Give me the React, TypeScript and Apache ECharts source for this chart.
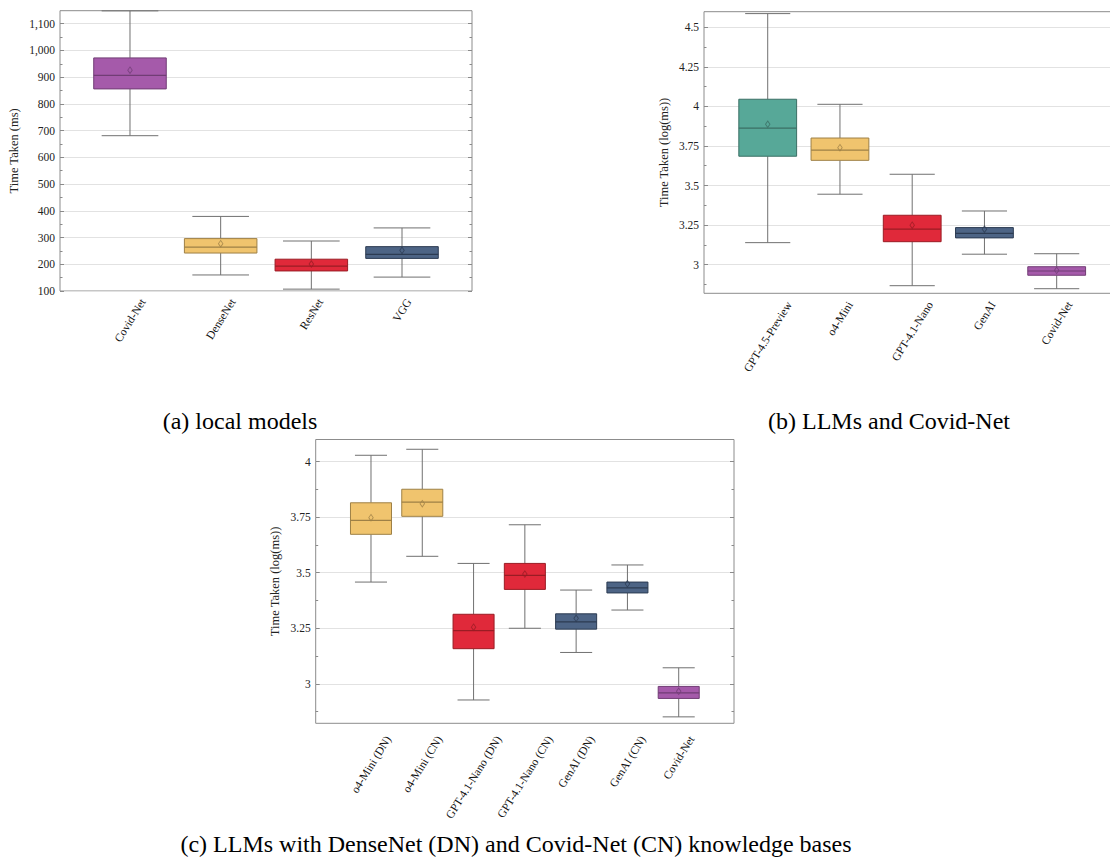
import React, { useEffect, useRef } from "react";
import * as echarts from "echarts";

// ---------------- data ----------------
// (a) local models
const catsA = ["Covid-Net", "DenseNet", "ResNet", "VGG"];
const minA = [681, 160, 107, 152];
const q1A = [856, 242, 175, 222];
const medA = [907, 264, 193, 237];
const q3A = [972, 296, 219, 266];
const maxA = [1148, 379, 287, 336];
const meanA = [926, 277, 201, 252];
const colA = ["purple", "yellow", "red", "blue"];
const majorA = [100, 200, 300, 400, 500, 600, 700, 800, 900, 1000, 1100];
const minorA = [150, 250, 350, 450, 550, 650, 750, 850, 950, 1050];

// (b) LLMs and Covid-Net
const catsB = ["GPT-4.5-Preview", "o4-Mini", "GPT-4.1-Nano", "GenAI", "Covid-Net"];
const minB = [3.139, 3.445, 2.867, 3.066, 2.848];
const q1B = [3.685, 3.659, 3.145, 3.169, 2.933];
const medB = [3.862, 3.723, 3.224, 3.198, 2.96];
const q3B = [4.045, 3.8, 3.312, 3.234, 2.987];
const maxB = [4.586, 4.013, 3.571, 3.339, 3.069];
const meanB = [3.887, 3.739, 3.249, 3.224, 2.964];
const colB = ["teal", "yellow", "red", "blue", "purple"];
const majorB = [3, 3.25, 3.5, 3.75, 4, 4.25, 4.5];
const minorB = [2.875, 3.125, 3.375, 3.625, 3.875, 4.125, 4.375];

// (c) LLMs with knowledge bases
const catsC = [
  "o4-Mini (DN)",
  "o4-Mini (CN)",
  "GPT-4.1-Nano (DN)",
  "GPT-4.1-Nano (CN)",
  "GenAI (DN)",
  "GenAI (CN)",
  "Covid-Net",
];
const minC = [3.458, 3.574, 2.927, 3.25, 3.141, 3.332, 2.851];
const q1C = [3.673, 3.754, 3.158, 3.425, 3.246, 3.409, 2.934];
const medC = [3.736, 3.818, 3.239, 3.488, 3.279, 3.432, 2.959];
const q3C = [3.815, 3.876, 3.313, 3.542, 3.315, 3.458, 2.988];
const maxC = [4.029, 4.056, 3.542, 3.716, 3.422, 3.535, 3.072];
const meanC = [3.748, 3.811, 3.255, 3.494, 3.295, 3.45, 2.966];
const colC = ["yellow", "yellow", "red", "red", "blue", "blue", "purple"];
const majorC = [3, 3.25, 3.5, 3.75, 4];
const minorC = [2.875, 3.125, 3.375, 3.625, 3.875];

const captionA = "(a) local models";
const captionB = "(b) LLMs and Covid-Net";
const captionC = "(c) LLMs with DenseNet (DN) and Covid-Net (CN) knowledge bases";

// ---------------- styling ----------------
const PALETTE: Record<string, { fill: string; stroke: string }> = {
  purple: { fill: "#A55AAA", stroke: "#713D75" },
  yellow: { fill: "#F0C46E", stroke: "#9E8046" },
  red: { fill: "#E0293A", stroke: "#9A1C24" },
  blue: { fill: "#4D6485", stroke: "#2C3B52" },
  teal: { fill: "#57A898", stroke: "#3B6F65" },
};
const FONT = '"Liberation Serif", "Times New Roman", serif';
const TICK = "#8a8a8a";
const GRIDC = "#e2e2e2";
const WHISK = "#707070";
const ROT = 58;
const RAD = (ROT * Math.PI) / 180;
const S = Math.sin(RAD);
const C = Math.cos(RAD);
const XFS = 11.5;
const XH = 8;

function measure(text: string, size: number): number {
  const ctx = document.createElement("canvas").getContext("2d");
  if (!ctx) return text.length * size * 0.45;
  ctx.font = `${size}px "Liberation Serif"`;
  return ctx.measureText(text).width;
}

type Panel = {
  grid: { left: number; top: number; width: number; height: number };
  xRange: [number, number];
  yRange: [number, number];
  cats: string[];
  mins: number[];
  q1s: number[];
  meds: number[];
  q3s: number[];
  maxs: number[];
  means: number[];
  cols: string[];
  major: number[];
  minor: number[];
  name: string;
  nameGap: number;
  fmt: (v: number) => string;
  labelGap: number;
};

function buildPanel(p: Panel, idx: number) {
  const yBase = idx * 4;
  const rich: Record<string, any> = {};
  p.cats.forEach((c, k) => {
    const L = measure(c, XFS);
    const delta = (L * S) / 2;
    rich["t" + k] = {
      fontFamily: FONT,
      fontSize: XFS,
      color: "#111",
      padding: [2 * C * delta, 2 * S * delta, 0, 0],
    };
  });
  const xAxis = {
    gridIndex: idx,
    type: "value",
    min: p.xRange[0],
    max: p.xRange[1],
    axisLine: { show: false, onZero: false },
    axisTick: { show: false },
    splitLine: { show: false },
    axisLabel: {
      customValues: p.cats.map((_, k) => k),
      rotate: ROT,
      align: "center",
      verticalAlign: "middle",
      margin: p.labelGap + (XH * C) / 2,
      fontFamily: FONT,
      fontSize: XFS,
      color: "#111",
      rich,
      formatter: (v: number) => {
        const k = Math.round(v);
        return `{t${k}|${p.cats[k]}}`;
      },
    },
  };
  const yCommon = {
    gridIndex: idx,
    type: "value",
    min: p.yRange[0],
    max: p.yRange[1],
    axisLine: { show: false, onZero: false },
    splitLine: { show: false },
    axisLabel: { show: false },
  };
  const yAxes = [
    {
      ...yCommon,
      position: "left",
      axisTick: { show: true, inside: true, length: 4, customValues: p.major, lineStyle: { color: TICK } },
      axisLabel: {
        show: true,
        customValues: p.major,
        formatter: p.fmt,
        margin: 5,
        fontFamily: FONT,
        fontSize: 11.5,
        color: "#222",
      },
      splitLine: { show: true, lineStyle: { color: GRIDC, width: 1 } },
      name: p.name,
      nameLocation: "middle",
      nameGap: p.nameGap,
      nameTextStyle: { fontFamily: FONT, fontSize: 12.5, color: "#222" },
    },
    {
      ...yCommon,
      position: "left",
      axisTick: { show: true, inside: true, length: 2.5, customValues: p.minor, lineStyle: { color: TICK } },
    },
    {
      ...yCommon,
      position: "right",
      axisTick: { show: true, inside: true, length: 4, customValues: p.major, lineStyle: { color: TICK } },
    },
    {
      ...yCommon,
      position: "right",
      axisTick: { show: true, inside: true, length: 2.5, customValues: p.minor, lineStyle: { color: TICK } },
    },
  ];
  const boxSeries = {
    type: "custom",
    xAxisIndex: idx,
    yAxisIndex: yBase,
    z: 3,
    silent: true,
    data: p.cats.map((_, k) => [k, p.mins[k], p.q1s[k], p.meds[k], p.q3s[k], p.maxs[k]]),
    encode: { x: 0, y: [1, 2, 3, 4, 5] },
    renderItem: (params: any, api: any) => {
      const k = api.value(0);
      const col = PALETTE[p.cols[params.dataIndex]];
      const pMin = api.coord([k, api.value(1)]);
      const pQ1 = api.coord([k, api.value(2)]);
      const pMed = api.coord([k, api.value(3)]);
      const pQ3 = api.coord([k, api.value(4)]);
      const pMax = api.coord([k, api.value(5)]);
      const bw = api.size([0.8, 0])[0];
      const cw = api.size([0.625, 0])[0];
      const x = pMin[0];
      const ws = { stroke: WHISK, lineWidth: 1 };
      return {
        type: "group",
        children: [
          { type: "line", shape: { x1: x, y1: pMax[1], x2: x, y2: pQ3[1] }, style: ws },
          { type: "line", shape: { x1: x, y1: pQ1[1], x2: x, y2: pMin[1] }, style: ws },
          { type: "line", shape: { x1: x - cw / 2, y1: pMax[1], x2: x + cw / 2, y2: pMax[1] }, style: ws },
          { type: "line", shape: { x1: x - cw / 2, y1: pMin[1], x2: x + cw / 2, y2: pMin[1] }, style: ws },
          {
            type: "rect",
            shape: { x: x - bw / 2, y: pQ3[1], width: bw, height: pQ1[1] - pQ3[1] },
            style: { fill: col.fill, stroke: col.stroke, lineWidth: 1 },
          },
          {
            type: "line",
            shape: { x1: x - bw / 2, y1: pMed[1], x2: x + bw / 2, y2: pMed[1] },
            style: { stroke: col.stroke, lineWidth: 1.2 },
          },
        ],
      };
    },
  };
  const meanSeries = {
    type: "scatter",
    xAxisIndex: idx,
    yAxisIndex: yBase,
    symbol: "diamond",
    symbolSize: [4.5, 6.5],
    z: 4,
    silent: true,
    data: p.means.map((m, k) => ({
      value: [k, m],
      itemStyle: { color: "rgba(0,0,0,0)", borderColor: PALETTE[p.cols[k]].stroke, borderWidth: 0.9 },
    })),
  };
  const grid = {
    ...p.grid,
    show: true,
    borderColor: "#8c8c8c",
    borderWidth: 1,
    backgroundColor: "rgba(0,0,0,0)",
    containLabel: false,
    outerBoundsMode: "none",
  };
  return { grid, xAxis, yAxes, series: [boxSeries, meanSeries] };
}

const fmtComma = (v: number) => Math.round(v).toLocaleString("en-US");
const fmtPlain = (v: number) => String(Math.round(v * 1000) / 1000);

export default function App() {
  const ref = useRef<HTMLDivElement>(null);
  useEffect(() => {
    if (!ref.current) return;
    const chart = echarts.init(ref.current, undefined, { renderer: "svg" });
    const panels: Panel[] = [
      {
        grid: { left: 60, top: 10.7, width: 412, height: 280.3 },
        xRange: [-0.772, 3.772],
        yRange: [100, 1148.6],
        cats: catsA, mins: minA, q1s: q1A, meds: medA, q3s: q3A, maxs: maxA, means: meanA, cols: colA,
        major: majorA, minor: minorA,
        name: "Time Taken (ms)", nameGap: 40, fmt: fmtComma, labelGap: 6.5,
      },
      {
        grid: { left: 704, top: 11.7, width: 416.4, height: 281.6 },
        xRange: [-0.882, 4.882],
        yRange: [2.819, 4.598],
        cats: catsB, mins: minB, q1s: q1B, meds: medB, q3s: q3B, maxs: maxB, means: meanB, cols: colB,
        major: majorB, minor: minorB,
        name: "Time Taken (log(ms))", nameGap: 34, fmt: fmtPlain, labelGap: 7,
      },
      {
        grid: { left: 315.7, top: 439.5, width: 418.3, height: 283.8 },
        xRange: [-1.078, 7.078],
        yRange: [2.822, 4.1],
        cats: catsC, mins: minC, q1s: q1C, meds: medC, q3s: q3C, maxs: maxC, means: meanC, cols: colC,
        major: majorC, minor: minorC,
        name: "Time Taken (log(ms))", nameGap: 34, fmt: fmtPlain, labelGap: 11.5,
      },
    ];
    const built = panels.map((p, i) => buildPanel(p, i));
    const captions = [
      { text: captionA, x: 240, y: 421 },
      { text: captionB, x: 889, y: 421 },
      { text: captionC, x: 516, y: 844 },
    ];
    chart.setOption({
      animation: false,
      grid: built.map((b) => b.grid),
      xAxis: built.map((b) => b.xAxis),
      yAxis: built.flatMap((b) => b.yAxes),
      series: built.flatMap((b) => b.series),
      graphic: captions.map((c) => ({
        type: "text",
        x: c.x,
        y: c.y,
        silent: true,
        style: {
          text: c.text,
          fontFamily: FONT,
          fontSize: 24,
          fill: "#000",
          textAlign: "center",
          textVerticalAlign: "middle",
        },
      })),
    });
    return () => chart.dispose();
  }, []);
  return (
    <div
      ref={ref}
      style={{ position: "fixed", left: 0, top: 0, width: 1110, height: 860, background: "#fff" }}
    />
  );
}
